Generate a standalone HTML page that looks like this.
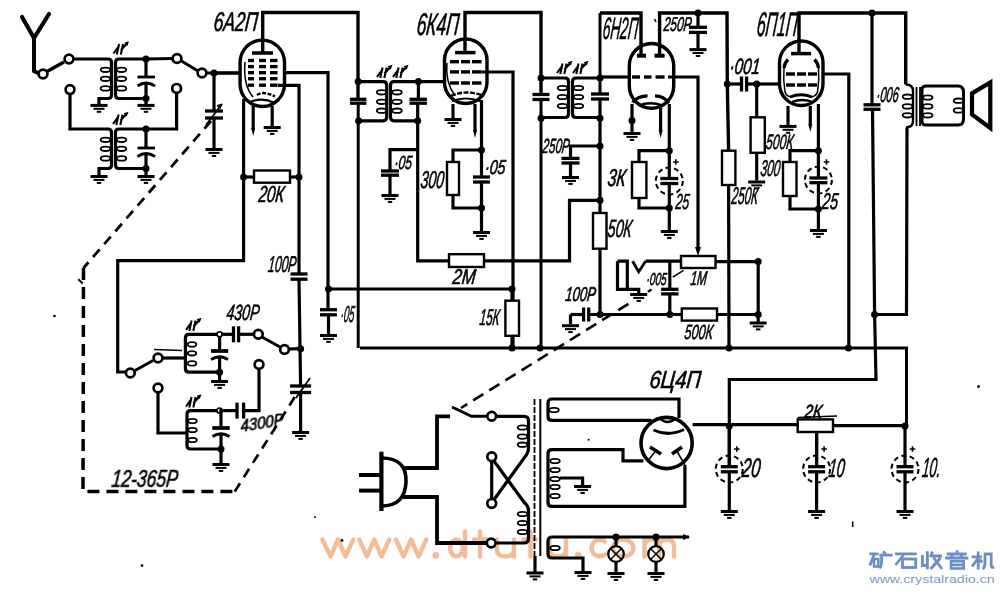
<!DOCTYPE html>
<html><head><meta charset="utf-8"><style>
html,body{margin:0;padding:0;background:#fff;width:1000px;height:593px;overflow:hidden}
svg{display:block}
text{font-family:"Liberation Sans",sans-serif;fill:#000}
</style></head><body>
<svg width="1000" height="593" viewBox="0 0 1000 593" stroke-linecap="butt" stroke-linejoin="miter">
<rect width="1000" height="593" fill="#fff"/>
<g fill="none" stroke="#f2bc98" stroke-width="4.4" stroke-linecap="round" stroke-linejoin="round">
<path d="M322.5,539.5 L330.5,556.5 L338,539.5 L345.5,556.5 L353.3,539.5"/>
<path d="M359.3,539.5 L367,556.5 L374.2,539.5 L381.6,556.5 L389.3,539.5"/>
<path d="M395.9,539.5 L403.6,556.5 L411.1,539.5 L418.6,556.5 L426.3,539.5"/>
<ellipse cx="456.5" cy="548" rx="6.3" ry="8.3"/><path d="M465,531.5 V556.5"/>
<path d="M480,531.5 V556.5 M474,539.5 H486.5"/>
<path d="M496.8,539.5 V549 Q496.8,556.5 505.3,556.5 Q514,556.5 514,549 V539.5 M514,549 V556.5"/>
<path d="M530.5,531.5 V556.5 M523.5,539.5 H536"/>
<path d="M549.3,539.5 V549 Q549.3,556.5 557.6,556.5 Q566,556.5 566,549 V539.5 M566,549 V556.5"/>
<path d="M605,541.5 A8.3,8.3 0 1 0 605,554.5"/>
<ellipse cx="623.2" cy="548" rx="10.3" ry="8.5"/>
<path d="M644.5,556.5 V539.5 M644.5,546 Q644.5,539.5 652,539.5 Q659.3,539.5 659.3,546 V556.5 M659.3,546 Q659.3,539.5 666.8,539.5 Q674,539.5 674,546 V556.5"/>
</g>
<g fill="#f2bc98"><circle cx="435.8" cy="555.3" r="3.4"/><circle cx="578.2" cy="555.3" r="3.4"/></g>
<polyline points="22,17 34,38 49,14" fill="none" stroke="#000" stroke-width="4.2" stroke-linecap="round"/>
<polyline points="34,38 34,71 40,74" fill="none" stroke="#000" stroke-width="4" />
<circle cx="43" cy="74" r="4.4" fill="#fff" stroke="#000" stroke-width="2.7"/>
<polyline points="47,71.5 64,62" fill="none" stroke="#000" stroke-width="3.5" />
<circle cx="69" cy="59" r="4.4" fill="#fff" stroke="#000" stroke-width="2.7"/>
<path d="M74,59 L108,59 Q111.5,59 111.5,62.5 L111.5,95 Q111.5,98.5 108,98.5 L99,98.5 L99,104" fill="none" stroke="#000" stroke-width="3.2" />
<ellipse cx="105.5" cy="69.8" rx="4.8" ry="2.2" fill="none" stroke="#000" stroke-width="1.8"/>
<ellipse cx="105.5" cy="78.8" rx="4.8" ry="2.2" fill="none" stroke="#000" stroke-width="1.8"/>
<ellipse cx="105.5" cy="88.4" rx="4.8" ry="2.2" fill="none" stroke="#000" stroke-width="1.8"/>
<rect x="90.5" y="103.9" width="17" height="3" />
<rect x="93.5" y="107.80000000000001" width="11" height="2" />
<rect x="96.8" y="110.80000000000001" width="4.4" height="2" />
<path d="M146,59 L119,59 Q115.5,59 115.5,62.5 L115.5,95 Q115.5,98.5 119,98.5 L146,98.5" fill="none" stroke="#000" stroke-width="3.2" />
<ellipse cx="121.5" cy="69.8" rx="4.8" ry="2.2" fill="none" stroke="#000" stroke-width="1.8"/>
<ellipse cx="121.5" cy="78.8" rx="4.8" ry="2.2" fill="none" stroke="#000" stroke-width="1.8"/>
<ellipse cx="121.5" cy="88.4" rx="4.8" ry="2.2" fill="none" stroke="#000" stroke-width="1.8"/>
<circle cx="146" cy="59" r="3.5"/>
<circle cx="146" cy="98.5" r="3.5"/>
<polyline points="146,59 146,77" fill="none" stroke="#000" stroke-width="3.2" />
<polyline points="137.5,77 155,77" fill="none" stroke="#000" stroke-width="2.8" />
<path d="M137.5,86 Q146,80 155,86" fill="none" stroke="#000" stroke-width="2.8" />
<polyline points="146,82 146,104" fill="none" stroke="#000" stroke-width="3.2" />
<rect x="137.5" y="103.9" width="17" height="3" />
<rect x="140.5" y="107.80000000000001" width="11" height="2" />
<rect x="143.8" y="110.80000000000001" width="4.4" height="2" />
<path d="M113.5,53.5 L118.5,46.5 M116.8,54.5 L119.1,44.0 M120.8,54.5 L123.1,44.0 M121.0,50.0 L127.0,43.5" fill="none" stroke="#000" stroke-width="2.1" />
<path d="M129.0,41.3 L124.1,42.7 L127.3,45.9 Z"/>
<polyline points="146,59 172.5,58.5" fill="none" stroke="#000" stroke-width="3.2" />
<circle cx="177" cy="58.5" r="4.4" fill="#fff" stroke="#000" stroke-width="2.7"/>
<polyline points="181.5,61 198,71" fill="none" stroke="#000" stroke-width="3" />
<circle cx="202" cy="73" r="4.4" fill="#fff" stroke="#000" stroke-width="2.7"/>
<polyline points="206.5,73 240,73" fill="none" stroke="#000" stroke-width="3.2" />
<circle cx="214" cy="73" r="3.5"/>
<polyline points="214,73 214,111" fill="none" stroke="#000" stroke-width="3.2" />
<polyline points="205,111 223,111" fill="none" stroke="#000" stroke-width="3.3" />
<polyline points="205,118 223,118" fill="none" stroke="#000" stroke-width="3.3" />
<polyline points="214,118 214,148" fill="none" stroke="#000" stroke-width="3.2" />
<rect x="205.5" y="148.0" width="17" height="3" />
<rect x="208.5" y="151.9" width="11" height="2" />
<rect x="211.8" y="154.9" width="4.4" height="2" />
<path d="M206,125 L222,104" fill="none" stroke="#000" stroke-width="1.8" />
<path d="M222,104 l-5,1.5 l3,3 z" fill="#000" stroke="#000" stroke-width="1" />
<circle cx="176.6" cy="88.4" r="4.4" fill="#fff" stroke="#000" stroke-width="2.7"/>
<polyline points="176.6,93 176.6,129 146,129" fill="none" stroke="#000" stroke-width="3.2" />
<circle cx="70" cy="89.6" r="4.4" fill="#fff" stroke="#000" stroke-width="2.7"/>
<path d="M70,94.2 L70,129 L108,129 Q111.5,129 111.5,132.5 L111.5,165 Q111.5,168.5 108,168.5 L99,168.5 L99,175" fill="none" stroke="#000" stroke-width="3.2" />
<ellipse cx="105.5" cy="139.8" rx="4.8" ry="2.2" fill="none" stroke="#000" stroke-width="1.8"/>
<ellipse cx="105.5" cy="148.8" rx="4.8" ry="2.2" fill="none" stroke="#000" stroke-width="1.8"/>
<ellipse cx="105.5" cy="158.4" rx="4.8" ry="2.2" fill="none" stroke="#000" stroke-width="1.8"/>
<rect x="90.5" y="175.0" width="17" height="3" />
<rect x="93.5" y="178.9" width="11" height="2" />
<rect x="96.8" y="181.9" width="4.4" height="2" />
<path d="M146,129 L119,129 Q115.5,129 115.5,132.5 L115.5,165 Q115.5,168.5 119,168.5 L146,168.5" fill="none" stroke="#000" stroke-width="3.2" />
<ellipse cx="121.5" cy="139.8" rx="4.8" ry="2.2" fill="none" stroke="#000" stroke-width="1.8"/>
<ellipse cx="121.5" cy="148.8" rx="4.8" ry="2.2" fill="none" stroke="#000" stroke-width="1.8"/>
<ellipse cx="121.5" cy="158.4" rx="4.8" ry="2.2" fill="none" stroke="#000" stroke-width="1.8"/>
<circle cx="146" cy="129" r="3.5"/>
<circle cx="146" cy="168.5" r="3.5"/>
<polyline points="146,129 146,148" fill="none" stroke="#000" stroke-width="3.2" />
<polyline points="137.5,148 155,148" fill="none" stroke="#000" stroke-width="2.8" />
<path d="M137.5,156.5 Q146,150.5 155,156.5" fill="none" stroke="#000" stroke-width="2.8" />
<polyline points="146,153 146,175" fill="none" stroke="#000" stroke-width="3.2" />
<rect x="137.5" y="175.0" width="17" height="3" />
<rect x="140.5" y="178.9" width="11" height="2" />
<rect x="143.8" y="181.9" width="4.4" height="2" />
<path d="M113,124 L118,117 M116.3,125 L118.6,114.5 M120.3,125 L122.6,114.5 M120.5,120.5 L126.5,114" fill="none" stroke="#000" stroke-width="2.1" />
<path d="M128.5,111.8 L123.6,113.2 L126.8,116.4 Z"/>
<polyline points="211,121 83.5,268" fill="none" stroke="#000" stroke-width="2.8" stroke-dasharray="10 7"/>
<polyline points="83.5,268 83,491.6 234.7,491.6" fill="none" stroke="#000" stroke-width="3.5" stroke-dasharray="12 7"/>
<polyline points="234.7,491.6 296.7,394" fill="none" stroke="#000" stroke-width="2.7" stroke-dasharray="10 7"/>
<polyline points="78.2,279.3 82.8,283.5" fill="none" stroke="#000" stroke-width="2" />
<path d="M240.10000000000002,62.3 A22.2,22.2 0 0 1 284.5,62.3 L284.5,84.3 A22.2,22.2 0 0 1 240.10000000000002,84.3 Z" fill="none" stroke="#000" stroke-width="3.4" />
<polyline points="262.7,53 262.7,12.5 358,12.5 358,99" fill="none" stroke="#000" stroke-width="3.4" />
<polyline points="252,53 273,53" fill="none" stroke="#000" stroke-width="3.5" />
<polyline points="248,60.5 254,60.5" fill="none" stroke="#000" stroke-width="3.4" />
<polyline points="259,60.5 266,60.5" fill="none" stroke="#000" stroke-width="3.4" />
<polyline points="270,60.5 277.5,60.5" fill="none" stroke="#000" stroke-width="3.4" />
<polyline points="248,66.6 254,66.6" fill="none" stroke="#000" stroke-width="3.4" />
<polyline points="259,66.6 266,66.6" fill="none" stroke="#000" stroke-width="3.4" />
<polyline points="270,66.6 277.5,66.6" fill="none" stroke="#000" stroke-width="3.4" />
<polyline points="248,72.7 254,72.7" fill="none" stroke="#000" stroke-width="3.4" />
<polyline points="259,72.7 266,72.7" fill="none" stroke="#000" stroke-width="3.4" />
<polyline points="270,72.7 277.5,72.7" fill="none" stroke="#000" stroke-width="3.4" />
<polyline points="248,78.7 254,78.7" fill="none" stroke="#000" stroke-width="3.4" />
<polyline points="259,78.7 266,78.7" fill="none" stroke="#000" stroke-width="3.4" />
<polyline points="270,78.7 277.5,78.7" fill="none" stroke="#000" stroke-width="3.4" />
<polyline points="248,85.2 254,85.2" fill="none" stroke="#000" stroke-width="3.4" />
<polyline points="259,85.2 266,85.2" fill="none" stroke="#000" stroke-width="3.4" />
<polyline points="270,85.2 277.5,85.2" fill="none" stroke="#000" stroke-width="3.4" />
<path d="M257,95 Q263,90.5 275,96.5" fill="none" stroke="#000" stroke-width="2.4" stroke-dasharray="4 1.5"/>
<path d="M250,102 Q262.5,97 274.5,103" fill="none" stroke="#000" stroke-width="2.2" />
<path d="M245,62 Q243,85 253,97" fill="none" stroke="#000" stroke-width="1.5" />
<polyline points="214,73 240,73" fill="none" stroke="#000" stroke-width="3.2" />
<polyline points="284,72.7 328,72.7 328,309.7" fill="none" stroke="#000" stroke-width="3.2" />
<polyline points="278,85.3 299,85.3 299,274" fill="none" stroke="#000" stroke-width="3.2" />
<polyline points="243.6,99 243.6,260.6 117.7,260.6 117.7,372 125,372" fill="none" stroke="#000" stroke-width="3.2" />
<polyline points="253.2,106 253.2,130" fill="none" stroke="#000" stroke-width="3.2" />
<path d="M251.2,128 L255.2,128 L253.2,136 Z"/>
<polyline points="272.2,106 272.2,126.5" fill="none" stroke="#000" stroke-width="3.2" />
<rect x="263.7" y="126.0" width="17" height="3" />
<rect x="266.7" y="129.9" width="11" height="2" />
<rect x="270.0" y="132.9" width="4.4" height="2" />
<circle cx="243.6" cy="177" r="3.5"/>
<rect x="254" y="170.5" width="36" height="12.199999999999989" fill="#fff" stroke="#000" stroke-width="2.4"/>
<polyline points="243.6,177 254,177" fill="none" stroke="#000" stroke-width="3.2" />
<polyline points="290,177 299,177" fill="none" stroke="#000" stroke-width="3.2" />
<circle cx="299" cy="177" r="3.5"/>
<polyline points="290.5,274 307.5,274" fill="none" stroke="#000" stroke-width="3.3" />
<polyline points="290.5,279.2 307.5,279.2" fill="none" stroke="#000" stroke-width="3.3" />
<polyline points="299,279.2 300.6,386" fill="none" stroke="#000" stroke-width="3.2" />
<circle cx="300.6" cy="348.7" r="3.5"/>
<polyline points="290.1,386 311.1,386" fill="none" stroke="#000" stroke-width="3.3" />
<polyline points="290.1,392.5 311.1,392.5" fill="none" stroke="#000" stroke-width="3.3" />
<polyline points="300.6,392.5 300.6,431" fill="none" stroke="#000" stroke-width="3.2" />
<rect x="292.1" y="431.0" width="17" height="3" />
<rect x="295.1" y="434.9" width="11" height="2" />
<rect x="298.40000000000003" y="437.9" width="4.4" height="2" />
<path d="M296,398 L310,378" fill="none" stroke="#000" stroke-width="1.8" />
<polyline points="320.0,309.7 337.0,309.7" fill="none" stroke="#000" stroke-width="3.3" />
<polyline points="320.0,314.8 337.0,314.8" fill="none" stroke="#000" stroke-width="3.3" />
<polyline points="328.5,314.8 328.5,334" fill="none" stroke="#000" stroke-width="3.2" />
<rect x="320.0" y="334.0" width="17" height="3" />
<rect x="323.0" y="337.9" width="11" height="2" />
<rect x="326.3" y="340.9" width="4.4" height="2" />
<circle cx="328.5" cy="289" r="3.5"/>
<polyline points="328.5,289 512,289" fill="none" stroke="#000" stroke-width="3.2" />
<polyline points="350.0,99.3 366.4,99.3" fill="none" stroke="#000" stroke-width="3.3" />
<polyline points="350.0,103.2 366.4,103.2" fill="none" stroke="#000" stroke-width="3.3" />
<polyline points="358.2,103.2 358.2,348" fill="none" stroke="#000" stroke-width="3" />
<circle cx="358.2" cy="81.6" r="3.5"/>
<circle cx="358.6" cy="120.8" r="3.5"/>
<path d="M358.2,81.6 L383,81.6 Q386.7,81.6 386.7,85.3 L386.7,117 Q386.7,120.8 383,120.8 L358.6,120.8" fill="none" stroke="#000" stroke-width="3.2" />
<ellipse cx="381.6" cy="92.3" rx="4.8" ry="2.2" fill="none" stroke="#000" stroke-width="1.8"/>
<ellipse cx="381.6" cy="101.8" rx="4.8" ry="2.2" fill="none" stroke="#000" stroke-width="1.8"/>
<ellipse cx="381.6" cy="110.7" rx="4.8" ry="2.2" fill="none" stroke="#000" stroke-width="1.8"/>
<path d="M418.4,81.6 L394,81.6 Q390.5,81.6 390.5,85.3 L390.5,117 Q390.5,120.8 394,120.8 L417.7,120.8" fill="none" stroke="#000" stroke-width="3.2" />
<ellipse cx="397" cy="92.3" rx="4.8" ry="2.2" fill="none" stroke="#000" stroke-width="1.8"/>
<ellipse cx="397" cy="101.8" rx="4.8" ry="2.2" fill="none" stroke="#000" stroke-width="1.8"/>
<ellipse cx="397" cy="110.7" rx="4.8" ry="2.2" fill="none" stroke="#000" stroke-width="1.8"/>
<path d="M377,77 L382,70 M380.3,78 L382.6,67.5 M384.3,78 L386.6,67.5 M384.5,73.5 L390.5,67" fill="none" stroke="#000" stroke-width="2.1" />
<path d="M392.5,64.8 L387.6,66.2 L390.8,69.4 Z"/>
<path d="M393,77 L398,70 M396.3,78 L398.6,67.5 M400.3,78 L402.6,67.5 M400.5,73.5 L406.5,67" fill="none" stroke="#000" stroke-width="2.1" />
<path d="M408.5,64.8 L403.6,66.2 L406.8,69.4 Z"/>
<circle cx="418.4" cy="81.6" r="3.5"/>
<circle cx="417.7" cy="120.8" r="3.5"/>
<polyline points="418.4,81.6 443,81.6" fill="none" stroke="#000" stroke-width="3.2" />
<polyline points="418.4,81.6 418.4,99.3" fill="none" stroke="#000" stroke-width="3.2" />
<polyline points="409.5,99.3 426.9,99.3" fill="none" stroke="#000" stroke-width="3.3" />
<polyline points="409.5,103.2 426.9,103.2" fill="none" stroke="#000" stroke-width="3.3" />
<polyline points="417.7,103.2 417.7,260.8 449,260.8" fill="none" stroke="#000" stroke-width="3.2" />
<rect x="449" y="254.2" width="35" height="12.800000000000011" fill="#fff" stroke="#000" stroke-width="2.4"/>
<polyline points="484,260.8 569.5,260.8 569.5,200.3 600,200.3" fill="none" stroke="#000" stroke-width="3.2" />
<polyline points="417.7,149.7 390,149.7 390,171" fill="none" stroke="#000" stroke-width="3.2" />
<polyline points="381,171 399,171" fill="none" stroke="#000" stroke-width="3.3" />
<polyline points="381,175.2 399,175.2" fill="none" stroke="#000" stroke-width="3.3" />
<polyline points="390,175.2 390,194" fill="none" stroke="#000" stroke-width="3.2" />
<rect x="381.5" y="194.0" width="17" height="3" />
<rect x="384.5" y="197.9" width="11" height="2" />
<rect x="387.8" y="200.9" width="4.4" height="2" />
<path d="M444.5,60.25 A21.25,21.25 0 0 1 487.0,60.25 L487.0,82.25 A21.25,21.25 0 0 1 444.5,82.25 Z" fill="none" stroke="#000" stroke-width="3.4" />
<polyline points="465,52.6 465,12.5 541,12.5 541,94.5" fill="none" stroke="#000" stroke-width="3.4" />
<polyline points="455,52.6 475.5,52.6" fill="none" stroke="#000" stroke-width="3.5" />
<polyline points="450,61.7 459,61.7" fill="none" stroke="#000" stroke-width="3.4" />
<polyline points="461,61.7 470,61.7" fill="none" stroke="#000" stroke-width="3.4" />
<polyline points="472,61.7 481.5,61.7" fill="none" stroke="#000" stroke-width="3.4" />
<polyline points="450,71.9 459,71.9" fill="none" stroke="#000" stroke-width="3.4" />
<polyline points="461,71.9 470,71.9" fill="none" stroke="#000" stroke-width="3.4" />
<polyline points="472,71.9 481.5,71.9" fill="none" stroke="#000" stroke-width="3.4" />
<polyline points="450,83 459,83" fill="none" stroke="#000" stroke-width="3.4" />
<polyline points="461,83 470,83" fill="none" stroke="#000" stroke-width="3.4" />
<polyline points="472,83 481.5,83" fill="none" stroke="#000" stroke-width="3.4" />
<polyline points="481.5,72 513,72 513,348" fill="none" stroke="#000" stroke-width="3.2" />
<path d="M451,96 Q466,89 484,96" fill="none" stroke="#000" stroke-width="2.4" stroke-dasharray="5 1.5"/>
<path d="M452,101 Q465.7,96 480,101" fill="none" stroke="#000" stroke-width="2" />
<path d="M447,63 Q445,82 455,96" fill="none" stroke="#000" stroke-width="1.5" />
<polyline points="453,104 453,118" fill="none" stroke="#000" stroke-width="3.2" />
<rect x="444.5" y="118.0" width="17" height="3" />
<rect x="447.5" y="121.9" width="11" height="2" />
<rect x="450.8" y="124.9" width="4.4" height="2" />
<polyline points="475,104 475,131" fill="none" stroke="#000" stroke-width="3.2" />
<path d="M473.0,130 L477.0,130 L475,138 Z"/>
<polyline points="481.5,100 481.5,177" fill="none" stroke="#000" stroke-width="3.2" />
<circle cx="481.5" cy="150" r="3.5"/>
<polyline points="481.5,150 453,150 453,162" fill="none" stroke="#000" stroke-width="3.2" />
<rect x="447" y="162" width="12" height="33" fill="#fff" stroke="#000" stroke-width="2.4"/>
<polyline points="453,195 453,208 481.5,208" fill="none" stroke="#000" stroke-width="3.2" />
<polyline points="473.0,177 490.0,177" fill="none" stroke="#000" stroke-width="3.3" />
<polyline points="473.0,182 490.0,182" fill="none" stroke="#000" stroke-width="3.3" />
<polyline points="481.5,182 481.5,231" fill="none" stroke="#000" stroke-width="3.2" />
<circle cx="481.5" cy="208" r="3.5"/>
<rect x="473.0" y="231.0" width="17" height="3" />
<rect x="476.0" y="234.9" width="11" height="2" />
<rect x="479.3" y="237.9" width="4.4" height="2" />
<circle cx="512" cy="289" r="3.5"/>
<polyline points="512,289 512,300.7" fill="none" stroke="#000" stroke-width="3.2" />
<rect x="505.4" y="300.7" width="13.600000000000023" height="35.10000000000002" fill="#fff" stroke="#000" stroke-width="2.4"/>
<polyline points="512,335.8 512,348" fill="none" stroke="#000" stroke-width="3.2" />
<circle cx="512" cy="348" r="3.5"/>
<polyline points="360,348 906.5,348 906.5,426.3" fill="none" stroke="#000" stroke-width="3" />
<circle cx="540" cy="348" r="3.5"/>
<circle cx="729" cy="348" r="3.5"/>
<circle cx="848.5" cy="348" r="3.5"/>
<polyline points="532.5,94.5 549.5,94.5" fill="none" stroke="#000" stroke-width="3.3" />
<polyline points="532.5,99.5 549.5,99.5" fill="none" stroke="#000" stroke-width="3.3" />
<polyline points="541,99.5 541,348" fill="none" stroke="#000" stroke-width="3" />
<circle cx="541" cy="78" r="3.5"/>
<circle cx="541" cy="118.3" r="3.5"/>
<path d="M541,78 L565,78 Q568.5,78 568.5,81.5 L568.5,114 Q568.5,117.5 565,117.5 L541,117.5" fill="none" stroke="#000" stroke-width="3.2" />
<ellipse cx="562.5" cy="88" rx="4.8" ry="2.2" fill="none" stroke="#000" stroke-width="1.8"/>
<ellipse cx="562.5" cy="97" rx="4.8" ry="2.2" fill="none" stroke="#000" stroke-width="1.8"/>
<ellipse cx="562.5" cy="106" rx="4.8" ry="2.2" fill="none" stroke="#000" stroke-width="1.8"/>
<path d="M600,78 L576,78 Q572.5,78 572.5,81.5 L572.5,114 Q572.5,117.5 576,117.5 L600,117.5" fill="none" stroke="#000" stroke-width="3.2" />
<ellipse cx="578.5" cy="88" rx="4.8" ry="2.2" fill="none" stroke="#000" stroke-width="1.8"/>
<ellipse cx="578.5" cy="97" rx="4.8" ry="2.2" fill="none" stroke="#000" stroke-width="1.8"/>
<ellipse cx="578.5" cy="106" rx="4.8" ry="2.2" fill="none" stroke="#000" stroke-width="1.8"/>
<path d="M557,73 L562,66 M560.3,74 L562.6,63.5 M564.3,74 L566.6,63.5 M564.5,69.5 L570.5,63" fill="none" stroke="#000" stroke-width="2.1" />
<path d="M572.5,60.8 L567.6,62.2 L570.8,65.4 Z"/>
<path d="M573,73 L578,66 M576.3,74 L578.6,63.5 M580.3,74 L582.6,63.5 M580.5,69.5 L586.5,63" fill="none" stroke="#000" stroke-width="2.1" />
<path d="M588.5,60.8 L583.6,62.2 L586.8,65.4 Z"/>
<circle cx="600" cy="78" r="3.5"/>
<circle cx="600" cy="118.3" r="3.5"/>
<polyline points="591,94 609,94" fill="none" stroke="#000" stroke-width="3.3" />
<polyline points="591,99 609,99" fill="none" stroke="#000" stroke-width="3.3" />
<polyline points="600,13 641,13 641,55.7" fill="none" stroke="#000" stroke-width="3.4" />
<polyline points="600,13 600,94" fill="none" stroke="#000" stroke-width="3" />
<polyline points="600,99 600,213" fill="none" stroke="#000" stroke-width="3.2" />
<circle cx="600" cy="146" r="3.5"/>
<polyline points="600,146 570.5,146 570.5,158.4" fill="none" stroke="#000" stroke-width="3.2" />
<polyline points="561.5,158.4 579.5,158.4" fill="none" stroke="#000" stroke-width="3.3" />
<polyline points="561.5,163 579.5,163" fill="none" stroke="#000" stroke-width="3.3" />
<polyline points="570.5,163 570.5,176" fill="none" stroke="#000" stroke-width="3.2" />
<rect x="562.0" y="176.0" width="17" height="3" />
<rect x="565.0" y="179.9" width="11" height="2" />
<rect x="568.3" y="182.9" width="4.4" height="2" />
<circle cx="600" cy="200.3" r="3.5"/>
<rect x="593" y="213" width="13.5" height="35.69999999999999" fill="#fff" stroke="#000" stroke-width="2.4"/>
<polyline points="600,248.7 600,314.5" fill="none" stroke="#000" stroke-width="3.2" />
<circle cx="600" cy="314.5" r="3.5"/>
<path d="M629.3,65.7 A22.2,22.2 0 0 1 673.7,65.7 L673.7,86.1 A22.2,22.2 0 0 1 629.3,86.1 Z" fill="none" stroke="#000" stroke-width="3.4" />
<polyline points="637,55.7 646,55.7" fill="none" stroke="#000" stroke-width="4" />
<polyline points="654.5,55.7 664.6,55.7" fill="none" stroke="#000" stroke-width="4" />
<polyline points="659.6,55.7 659.6,13 727,13 727.3,84 728.6,150.7" fill="none" stroke="#000" stroke-width="3.4" />
<circle cx="698" cy="13" r="3.5"/>
<polyline points="698,13 698,27.3" fill="none" stroke="#000" stroke-width="3.2" />
<polyline points="689,27.3 707,27.3" fill="none" stroke="#000" stroke-width="3.3" />
<polyline points="689,32.4 707,32.4" fill="none" stroke="#000" stroke-width="3.3" />
<polyline points="698,32.4 698,48" fill="none" stroke="#000" stroke-width="3.2" />
<rect x="689.5" y="48.1" width="17" height="3" />
<rect x="692.5" y="52.0" width="11" height="2" />
<rect x="695.8" y="55.0" width="4.4" height="2" />
<polyline points="654.5,19 656,22" fill="none" stroke="#000" stroke-width="1.5" />
<polyline points="600,77 629,77" fill="none" stroke="#000" stroke-width="3.2" />
<polyline points="632,77 640,77" fill="none" stroke="#000" stroke-width="3.4" />
<polyline points="644,77 651.5,77" fill="none" stroke="#000" stroke-width="3.4" />
<polyline points="655.5,77 664.6,77" fill="none" stroke="#000" stroke-width="3.4" />
<polyline points="668,77 698,77 698,249" fill="none" stroke="#000" stroke-width="3.2" />
<path d="M695.0,247 L701.0,247 L698,256 Z"/>
<path d="M632.6,102.4 Q638,96 647.5,95.9" fill="none" stroke="#000" stroke-width="3.2" />
<path d="M655,95.9 Q664,96 668.8,103.3" fill="none" stroke="#000" stroke-width="3.2" />
<path d="M639,105.5 Q650.5,101 662.3,105.5" fill="none" stroke="#000" stroke-width="2.6" />
<polyline points="632,104 632,132" fill="none" stroke="#000" stroke-width="3.2" />
<circle cx="632" cy="120.4" r="3.5"/>
<rect x="623.5" y="132.0" width="17" height="3" />
<rect x="626.5" y="135.9" width="11" height="2" />
<rect x="629.8" y="138.9" width="4.4" height="2" />
<polyline points="660.6,108 660.6,131" fill="none" stroke="#000" stroke-width="3.2" />
<path d="M658.6,130 L662.6,130 L660.6,138 Z"/>
<polyline points="669.3,104 669.3,178.5" fill="none" stroke="#000" stroke-width="3.2" />
<circle cx="669.3" cy="150.7" r="3.5"/>
<polyline points="669.3,150.7 639,150.7 639,162" fill="none" stroke="#000" stroke-width="3.2" />
<rect x="632" y="162" width="14.399999999999977" height="36" fill="#fff" stroke="#000" stroke-width="2.4"/>
<polyline points="639,198 639,208 669.3,208" fill="none" stroke="#000" stroke-width="3.2" />
<polyline points="660.3,178.5 678.3,178.5" fill="none" stroke="#000" stroke-width="3.3" />
<polyline points="660.3,183.5 678.3,183.5" fill="none" stroke="#000" stroke-width="3.3" />
<circle cx="669.3" cy="181" r="13.5" fill="none" stroke="#000" stroke-width="2" stroke-dasharray="5 3.5"/>
<polyline points="669.3,183.5 669.3,230" fill="none" stroke="#000" stroke-width="3.2" />
<circle cx="669.3" cy="208" r="3.5"/>
<rect x="660.8" y="230.0" width="17" height="3" />
<rect x="663.8" y="233.9" width="11" height="2" />
<rect x="667.0999999999999" y="236.9" width="4.4" height="2" />
<path d="M673.0,162 H678.5999999999999 M675.8,159.2 V164.8" fill="none" stroke="#000" stroke-width="1.6" />
<rect x="681" y="256" width="34.5" height="12" fill="#fff" stroke="#000" stroke-width="2.4"/>
<polyline points="645.5,261.2 681,261.2" fill="none" stroke="#000" stroke-width="3.2" />
<polyline points="715.5,261.6 758.2,261.6 758.2,322" fill="none" stroke="#000" stroke-width="3.2" />
<circle cx="758.2" cy="261.6" r="3.5"/>
<circle cx="758.2" cy="314.5" r="3.5"/>
<rect x="749.7" y="321.5" width="17" height="3" />
<rect x="752.7" y="325.4" width="11" height="2" />
<rect x="756.0" y="328.4" width="4.4" height="2" />
<polyline points="672.8,277.2 683.5,270.3" fill="none" stroke="#000" stroke-width="1.5" />
<polyline points="617.5,261.2 627.3,261.2 627.3,289.3" fill="none" stroke="#000" stroke-width="3.2" />
<polyline points="617.5,261.2 617.5,289.3 638.7,289.3 638.7,293" fill="none" stroke="#000" stroke-width="3.2" />
<rect x="630.2" y="293.0" width="17" height="3" />
<rect x="633.2" y="296.9" width="11" height="2" />
<rect x="636.5" y="299.9" width="4.4" height="2" />
<polyline points="632.6,261.2 638.7,271.9 645.5,261.2" fill="none" stroke="#000" stroke-width="2.8" />
<polyline points="669.8,261.2 669.8,289.3" fill="none" stroke="#000" stroke-width="3.2" />
<polyline points="661.0999999999999,289.3 678.5,289.3" fill="none" stroke="#000" stroke-width="3.3" />
<polyline points="661.0999999999999,293.9 678.5,293.9" fill="none" stroke="#000" stroke-width="3.3" />
<polyline points="669.8,293.9 669.8,314.5" fill="none" stroke="#000" stroke-width="3.2" />
<circle cx="669.8" cy="314.5" r="3.5"/>
<polyline points="570.5,314.5 583.6,314.5" fill="none" stroke="#000" stroke-width="3.2" />
<polyline points="583.6,307.5 583.6,321.5" fill="none" stroke="#000" stroke-width="3.3" />
<polyline points="588.7,307.5 588.7,321.5" fill="none" stroke="#000" stroke-width="3.3" />
<polyline points="588.7,314.5 681.8,314.5" fill="none" stroke="#000" stroke-width="3.2" />
<polyline points="570.5,314.5 570.5,324" fill="none" stroke="#000" stroke-width="3.2" />
<rect x="562.0" y="324.2" width="17" height="3" />
<rect x="565.0" y="328.09999999999997" width="11" height="2" />
<rect x="568.3" y="331.09999999999997" width="4.4" height="2" />
<rect x="681.8" y="308.5" width="35.200000000000045" height="12.100000000000023" fill="#fff" stroke="#000" stroke-width="2.4"/>
<polyline points="717,314.5 759.5,314.5" fill="none" stroke="#000" stroke-width="3.2" />
<polyline points="728.6,185 729,348" fill="none" stroke="#000" stroke-width="3.2" />
<rect x="722" y="150.7" width="13.399999999999977" height="34.30000000000001" fill="#fff" stroke="#000" stroke-width="2.4"/>
<polyline points="651.5,289.5 648,291.7" fill="none" stroke="#000" stroke-width="2.4" />
<polyline points="628.5,303.8 461,408" fill="none" stroke="#000" stroke-width="2.6" stroke-dasharray="12 7"/>
<path d="M779.5,62.75 A21.75,21.75 0 0 1 823.0,62.75 L823.0,83.75 A21.75,21.75 0 0 1 779.5,83.75 Z" fill="none" stroke="#000" stroke-width="3.4" />
<polyline points="799,53.6 799,13 905.7,13 905.7,84.5" fill="none" stroke="#000" stroke-width="3.4" />
<polyline points="791,53.6 811,53.6" fill="none" stroke="#000" stroke-width="3.5" />
<path d="M788,59.5 Q784.5,63 784,68" fill="none" stroke="#000" stroke-width="3.2" />
<path d="M814.5,59.5 Q818,63 818.5,68" fill="none" stroke="#000" stroke-width="3.2" />
<path d="M784,67 Q783,80 785,92 Q787,97.5 792,96.5 Q801,93 810,96.5 Q815.5,97.5 817.5,92 Q819.5,80 818.5,67" fill="none" stroke="#000" stroke-width="1.5" />
<polyline points="786,74 795,74" fill="none" stroke="#000" stroke-width="3.4" />
<polyline points="797,74 806,74" fill="none" stroke="#000" stroke-width="3.4" />
<polyline points="808,74 817,74" fill="none" stroke="#000" stroke-width="3.4" />
<polyline points="786,85 795,85" fill="none" stroke="#000" stroke-width="3.4" />
<polyline points="797,85 806,85" fill="none" stroke="#000" stroke-width="3.4" />
<polyline points="808,85 817,85" fill="none" stroke="#000" stroke-width="3.4" />
<polyline points="823,74 848.8,74 848.8,348" fill="none" stroke="#000" stroke-width="3.2" />
<path d="M790,97 Q801,92.5 812,97" fill="none" stroke="#000" stroke-width="2.8" />
<path d="M792,102 Q802,98 812.5,102" fill="none" stroke="#000" stroke-width="2.4" />
<circle cx="872" cy="13" r="3.5"/>
<polyline points="872,13 872,104.8" fill="none" stroke="#000" stroke-width="3.2" />
<polyline points="863.5,104.8 880.5,104.8" fill="none" stroke="#000" stroke-width="3.3" />
<polyline points="863.5,109.3 880.5,109.3" fill="none" stroke="#000" stroke-width="3.3" />
<polyline points="872.5,109.3 874.6,314.5 876,379.5 729.3,379.5 729.3,466.7" fill="none" stroke="#000" stroke-width="3.2" />
<circle cx="874.6" cy="314.5" r="3.5"/>
<polyline points="874.6,314.5 906.5,314.5 907,127.4" fill="none" stroke="#000" stroke-width="3.2" />
<circle cx="727.3" cy="84" r="3.5"/>
<polyline points="727.3,84 741.5,84" fill="none" stroke="#000" stroke-width="3.2" />
<polyline points="741.5,76.5 741.5,91.5" fill="none" stroke="#000" stroke-width="3.3" />
<polyline points="746.6,76.5 746.6,91.5" fill="none" stroke="#000" stroke-width="3.3" />
<polyline points="746.6,84 778,84" fill="none" stroke="#000" stroke-width="3.2" />
<circle cx="756.7" cy="84" r="3.5"/>
<polyline points="756.7,84 756.7,117.3" fill="none" stroke="#000" stroke-width="3.2" />
<rect x="750.6" y="117.3" width="14.199999999999932" height="35.500000000000014" fill="#fff" stroke="#000" stroke-width="2.4"/>
<polyline points="756.7,152.8 756.7,180.5" fill="none" stroke="#000" stroke-width="3.2" />
<rect x="748.2" y="180.5" width="17" height="3" />
<rect x="751.2" y="184.4" width="11" height="2" />
<rect x="754.5" y="187.4" width="4.4" height="2" />
<polyline points="788,106 788,125" fill="none" stroke="#000" stroke-width="3.2" />
<rect x="779.5" y="124.9" width="17" height="3" />
<rect x="782.5" y="128.8" width="11" height="2" />
<rect x="785.8" y="131.8" width="4.4" height="2" />
<polyline points="810.3,106 810.3,125" fill="none" stroke="#000" stroke-width="3.2" />
<path d="M808.3,124 L812.3,124 L810.3,132 Z"/>
<polyline points="818.4,104 818.4,178" fill="none" stroke="#000" stroke-width="3.2" />
<circle cx="818.4" cy="150.7" r="3.5"/>
<polyline points="818.4,150.7 790,150.7 790,162" fill="none" stroke="#000" stroke-width="3.2" />
<rect x="783" y="162" width="13.5" height="34" fill="#fff" stroke="#000" stroke-width="2.4"/>
<polyline points="790,196 790,209 818.4,209" fill="none" stroke="#000" stroke-width="3.2" />
<polyline points="809.4,178 827.4,178" fill="none" stroke="#000" stroke-width="3.3" />
<polyline points="809.4,182.7 827.4,182.7" fill="none" stroke="#000" stroke-width="3.3" />
<circle cx="818.4" cy="180" r="13.5" fill="none" stroke="#000" stroke-width="2" stroke-dasharray="5 3.5"/>
<polyline points="818.4,182.7 818.4,229" fill="none" stroke="#000" stroke-width="3.2" />
<circle cx="818.4" cy="209" r="3.5"/>
<rect x="809.9" y="229.0" width="17" height="3" />
<rect x="812.9" y="232.9" width="11" height="2" />
<rect x="816.1999999999999" y="235.9" width="4.4" height="2" />
<path d="M823.7,162 H829.3 M826.5,159.2 V164.8" fill="none" stroke="#000" stroke-width="1.6" />
<path d="M905.7,84.5 Q913,84.5 913,91 L913,121 Q913,127.4 906,127.4" fill="none" stroke="#000" stroke-width="2.4" />
<ellipse cx="907.5" cy="96.7" rx="4.8" ry="2.2" fill="none" stroke="#000" stroke-width="1.8"/>
<ellipse cx="907.5" cy="106.4" rx="4.8" ry="2.2" fill="none" stroke="#000" stroke-width="1.8"/>
<ellipse cx="907.5" cy="115.3" rx="4.8" ry="2.2" fill="none" stroke="#000" stroke-width="1.8"/>
<polyline points="916.5,87 916.5,126" fill="none" stroke="#000" stroke-width="1.8" />
<polyline points="920,87 920,126" fill="none" stroke="#000" stroke-width="1.8" />
<path d="M958,86 L926,86 Q922,86 922,90 L922,121 Q922,125 926,125 L958,125 Q963.5,125 963.5,119 L963.5,92 Q963.5,86 958,86" fill="none" stroke="#000" stroke-width="3" />
<ellipse cx="927.7" cy="97.5" rx="4.8" ry="2.2" fill="none" stroke="#000" stroke-width="1.8"/>
<ellipse cx="927.7" cy="106.4" rx="4.8" ry="2.2" fill="none" stroke="#000" stroke-width="1.8"/>
<ellipse cx="927.7" cy="115.3" rx="4.8" ry="2.2" fill="none" stroke="#000" stroke-width="1.8"/>
<ellipse cx="958.5" cy="100.7" rx="4.8" ry="2.2" fill="none" stroke="#000" stroke-width="1.8"/>
<ellipse cx="958.5" cy="110.4" rx="4.8" ry="2.2" fill="none" stroke="#000" stroke-width="1.8"/>
<path d="M972,93.4 L990.3,82.5 L990.3,128 L972,114.5 Z" fill="none" stroke="#000" stroke-width="4.2" />
<polyline points="381.4,451.7 381.4,511" fill="none" stroke="#000" stroke-width="4.2" />
<path d="M381.4,458 Q407,458 406,482 Q405,506 381.4,506" fill="none" stroke="#000" stroke-width="3.6" />
<polyline points="359,475 381,475" fill="none" stroke="#000" stroke-width="4" />
<polyline points="359,490.6 381,490.6" fill="none" stroke="#000" stroke-width="4" />
<polyline points="403,468 437,468 437,416.3 450,416.3" fill="none" stroke="#000" stroke-width="3.8" />
<polyline points="403,497 437,497 437,543 486,543" fill="none" stroke="#000" stroke-width="3.8" />
<polyline points="452,407 471.5,416.3 487,416.3" fill="none" stroke="#000" stroke-width="3" />
<circle cx="491.7" cy="416.3" r="4.4" fill="#fff" stroke="#000" stroke-width="2.7"/>
<path d="M496.5,416.3 L524,416.3 Q528.5,416.3 528.5,421 L528.5,448 Q528.5,453 524.5,457.5 L494.5,499" fill="none" stroke="#000" stroke-width="3.2" />
<ellipse cx="522.5" cy="427.5" rx="4.8" ry="2.2" fill="none" stroke="#000" stroke-width="1.8"/>
<ellipse cx="522.5" cy="436.6" rx="4.8" ry="2.2" fill="none" stroke="#000" stroke-width="1.8"/>
<ellipse cx="522.5" cy="444.7" rx="4.8" ry="2.2" fill="none" stroke="#000" stroke-width="1.8"/>
<circle cx="491.7" cy="456.8" r="4.4" fill="#fff" stroke="#000" stroke-width="2.7"/>
<circle cx="491.7" cy="503.4" r="4.4" fill="#fff" stroke="#000" stroke-width="2.7"/>
<polyline points="491.7,461.5 491.7,498.6" fill="none" stroke="#000" stroke-width="3.2" />
<polyline points="494,461 525,503.5" fill="none" stroke="#000" stroke-width="3.2" />
<path d="M524.5,502.5 Q528.5,506 528.5,511 L528.5,538 Q528.5,543 524,543 L496.5,543" fill="none" stroke="#000" stroke-width="3.2" />
<ellipse cx="522.5" cy="514" rx="4.8" ry="2.2" fill="none" stroke="#000" stroke-width="1.8"/>
<ellipse cx="522.5" cy="523" rx="4.8" ry="2.2" fill="none" stroke="#000" stroke-width="1.8"/>
<ellipse cx="522.5" cy="532" rx="4.8" ry="2.2" fill="none" stroke="#000" stroke-width="1.8"/>
<circle cx="491.2" cy="543" r="4.4" fill="#fff" stroke="#000" stroke-width="2.7"/>
<polyline points="534.5,399 534.5,556" fill="none" stroke="#000" stroke-width="1.8" stroke-dasharray="6 2"/>
<polyline points="540.3,399 540.3,556" fill="none" stroke="#000" stroke-width="2" />
<polyline points="535,556 535,572" fill="none" stroke="#000" stroke-width="3.2" />
<rect x="526.5" y="571.5" width="17" height="3" />
<rect x="529.5" y="575.4" width="11" height="2" />
<rect x="532.8" y="578.4" width="4.4" height="2" />
<path d="M679,418 L679,399 L552,399 Q548,399 548,403 L548,416.5 Q548,420.4 552,420.4 L651.5,420.4" fill="none" stroke="#000" stroke-width="3.2" />
<ellipse cx="554" cy="410" rx="4.8" ry="2.2" fill="none" stroke="#000" stroke-width="1.8"/>
<path d="M643.4,460.8 L623,460.8 L623,449.7 L552,449.7 Q548,449.7 548,453.5 L548,502.5 Q548,506.4 552,506.4 L684.9,506.4 L684.9,465" fill="none" stroke="#000" stroke-width="3.2" />
<ellipse cx="555" cy="461" rx="4.8" ry="2.2" fill="none" stroke="#000" stroke-width="1.8"/>
<ellipse cx="555" cy="470" rx="4.8" ry="2.2" fill="none" stroke="#000" stroke-width="1.8"/>
<ellipse cx="555" cy="479" rx="4.8" ry="2.2" fill="none" stroke="#000" stroke-width="1.8"/>
<ellipse cx="555" cy="487" rx="4.8" ry="2.2" fill="none" stroke="#000" stroke-width="1.8"/>
<ellipse cx="555" cy="496" rx="4.8" ry="2.2" fill="none" stroke="#000" stroke-width="1.8"/>
<polyline points="560,478 582.6,478 582.6,485" fill="none" stroke="#000" stroke-width="3.2" />
<rect x="574.1" y="485.0" width="17" height="3" />
<rect x="577.1" y="488.9" width="11" height="2" />
<rect x="580.4" y="491.9" width="4.4" height="2" />
<circle cx="666.6" cy="443" r="25.6" fill="none" stroke="#000" stroke-width="3.6"/>
<path d="M653.5,430 Q668,437 684,429.5" fill="none" stroke="#000" stroke-width="3" />
<path d="M659.6,418 Q667,426 676,418" fill="none" stroke="#000" stroke-width="2.4" />
<polyline points="650,447 661,454" fill="none" stroke="#000" stroke-width="3.5" />
<polyline points="672,454 682,447" fill="none" stroke="#000" stroke-width="3.5" />
<polyline points="655.5,451 648,460.8" fill="none" stroke="#000" stroke-width="1.5" />
<polyline points="676.8,451 684.9,465" fill="none" stroke="#000" stroke-width="1.5" />
<polyline points="692.6,424.6 797.7,424.6" fill="none" stroke="#000" stroke-width="3.2" />
<rect x="797.7" y="419.4" width="35.299999999999955" height="12.600000000000023" fill="#fff" stroke="#000" stroke-width="2.4"/>
<polyline points="833,425.6 905,425.6" fill="none" stroke="#000" stroke-width="3.2" />
<circle cx="729.3" cy="426" r="3.5"/>
<circle cx="905" cy="426" r="3.5"/>
<polyline points="797.7,417.4 837,416" fill="none" stroke="#000" stroke-width="1.5" />
<polyline points="816.6,432 816.6,466.7" fill="none" stroke="#000" stroke-width="3.2" />
<polyline points="729.3,426 729.3,466.7" fill="none" stroke="#000" stroke-width="3.2" />
<polyline points="720.8,466.7 737.8,466.7" fill="none" stroke="#000" stroke-width="3.3" />
<polyline points="720.8,471.8 737.8,471.8" fill="none" stroke="#000" stroke-width="3.3" />
<polyline points="729.3,471.8 729.3,510" fill="none" stroke="#000" stroke-width="3.2" />
<circle cx="729.3" cy="469" r="13.5" fill="none" stroke="#000" stroke-width="2" stroke-dasharray="5 3.5"/>
<rect x="720.8" y="510.0" width="17" height="3" />
<rect x="723.8" y="513.9" width="11" height="2" />
<rect x="727.0999999999999" y="516.9" width="4.4" height="2" />
<path d="M734.0,449 H739.5999999999999 M736.8,446.2 V451.8" fill="none" stroke="#000" stroke-width="1.6" />
<polyline points="816.6,432 816.6,466.7" fill="none" stroke="#000" stroke-width="3.2" />
<polyline points="808.1,466.7 825.1,466.7" fill="none" stroke="#000" stroke-width="3.3" />
<polyline points="808.1,471.8 825.1,471.8" fill="none" stroke="#000" stroke-width="3.3" />
<polyline points="816.6,471.8 816.6,510" fill="none" stroke="#000" stroke-width="3.2" />
<circle cx="816.6" cy="469" r="13.5" fill="none" stroke="#000" stroke-width="2" stroke-dasharray="5 3.5"/>
<rect x="808.1" y="510.0" width="17" height="3" />
<rect x="811.1" y="513.9" width="11" height="2" />
<rect x="814.4" y="516.9" width="4.4" height="2" />
<path d="M821.3000000000001,449 H826.9 M824.1,446.2 V451.8" fill="none" stroke="#000" stroke-width="1.6" />
<polyline points="905,426 905,466.7" fill="none" stroke="#000" stroke-width="3.2" />
<polyline points="896.5,466.7 913.5,466.7" fill="none" stroke="#000" stroke-width="3.3" />
<polyline points="896.5,471.8 913.5,471.8" fill="none" stroke="#000" stroke-width="3.3" />
<polyline points="905,471.8 905,510" fill="none" stroke="#000" stroke-width="3.2" />
<circle cx="905" cy="469" r="13.5" fill="none" stroke="#000" stroke-width="2" stroke-dasharray="5 3.5"/>
<rect x="896.5" y="510.0" width="17" height="3" />
<rect x="899.5" y="513.9" width="11" height="2" />
<rect x="902.8" y="516.9" width="4.4" height="2" />
<path d="M909.7,449 H915.3 M912.5,446.2 V451.8" fill="none" stroke="#000" stroke-width="1.6" />
<path d="M689,537 L552,537 Q548,537 548,541 L548,554 Q548,558 552,558 L583,558 L583,571" fill="none" stroke="#000" stroke-width="3.2" />
<path d="M683,534 L690,537 L683,540 Z"/>
<ellipse cx="555" cy="548" rx="4.8" ry="2.2" fill="none" stroke="#000" stroke-width="1.8"/>
<rect x="574.5" y="571.0" width="17" height="3" />
<rect x="577.5" y="574.9" width="11" height="2" />
<rect x="580.8" y="577.9" width="4.4" height="2" />
<circle cx="616" cy="537" r="3.5"/>
<polyline points="616,537 616,546" fill="none" stroke="#000" stroke-width="3.2" />
<circle cx="616" cy="554" r="7.8" fill="none" stroke="#000" stroke-width="2.2"/>
<polyline points="610.5,548.5 621.5,559.5" fill="none" stroke="#000" stroke-width="1.5" />
<polyline points="610.5,559.5 621.5,548.5" fill="none" stroke="#000" stroke-width="1.5" />
<polyline points="616,562 616,572" fill="none" stroke="#000" stroke-width="3.2" />
<rect x="607.5" y="572.0" width="17" height="3" />
<rect x="610.5" y="575.9" width="11" height="2" />
<rect x="613.8" y="578.9" width="4.4" height="2" />
<circle cx="656" cy="537" r="3.5"/>
<polyline points="656,537 656,546" fill="none" stroke="#000" stroke-width="3.2" />
<circle cx="656" cy="554" r="7.8" fill="none" stroke="#000" stroke-width="2.2"/>
<polyline points="650.5,548.5 661.5,559.5" fill="none" stroke="#000" stroke-width="1.5" />
<polyline points="650.5,559.5 661.5,548.5" fill="none" stroke="#000" stroke-width="1.5" />
<polyline points="656,562 656,572" fill="none" stroke="#000" stroke-width="3.2" />
<rect x="647.5" y="572.0" width="17" height="3" />
<rect x="650.5" y="575.9" width="11" height="2" />
<rect x="653.8" y="578.9" width="4.4" height="2" />
<circle cx="130.3" cy="373" r="4.4" fill="#fff" stroke="#000" stroke-width="2.7"/>
<polyline points="135,370.5 153,360.5" fill="none" stroke="#000" stroke-width="3" />
<circle cx="158" cy="358" r="4.4" fill="#fff" stroke="#000" stroke-width="2.7"/>
<polyline points="154,349.5 182,350.5" fill="none" stroke="#000" stroke-width="1.5" />
<polyline points="162.8,358 187,358" fill="none" stroke="#000" stroke-width="3.2" />
<path d="M219.6,334.3 L189,334.3 Q185.4,334.3 185.4,338 L185.4,368.5 Q185.4,372.2 189,372.2 L219.6,372.2" fill="none" stroke="#000" stroke-width="3.2" />
<ellipse cx="192" cy="344.4" rx="4.3" ry="2.2" fill="none" stroke="#000" stroke-width="1.8"/>
<ellipse cx="192" cy="353.3" rx="4.3" ry="2.2" fill="none" stroke="#000" stroke-width="1.8"/>
<ellipse cx="192" cy="363.4" rx="4.3" ry="2.2" fill="none" stroke="#000" stroke-width="1.8"/>
<path d="M186,330 L191,323 M189.3,331 L191.6,320.5 M193.3,331 L195.6,320.5 M193.5,326.5 L199.5,320" fill="none" stroke="#000" stroke-width="2.1" />
<path d="M201.5,317.8 L196.6,319.2 L199.8,322.4 Z"/>
<circle cx="219.6" cy="334.3" r="2.6" fill="#fff" stroke="#000" stroke-width="1.6"/>
<polyline points="221.5,334.3 233.5,334.3" fill="none" stroke="#000" stroke-width="3.2" />
<polyline points="233.5,326.3 233.5,342.3" fill="none" stroke="#000" stroke-width="3.3" />
<polyline points="238.6,326.3 238.6,342.3" fill="none" stroke="#000" stroke-width="3.3" />
<polyline points="238.6,334.3 253.5,334.3" fill="none" stroke="#000" stroke-width="3.2" />
<circle cx="258.3" cy="334.3" r="4.4" fill="#fff" stroke="#000" stroke-width="2.7"/>
<polyline points="262,337 280,347" fill="none" stroke="#000" stroke-width="3" />
<circle cx="284.5" cy="349.5" r="4.4" fill="#fff" stroke="#000" stroke-width="2.7"/>
<polyline points="289.3,349 300.6,348.7" fill="none" stroke="#000" stroke-width="3.2" />
<polyline points="219.6,336.5 219.6,351" fill="none" stroke="#000" stroke-width="3.2" />
<polyline points="211.1,351 228.1,351" fill="none" stroke="#000" stroke-width="3.3" />
<polyline points="211.1,351 228.1,351" fill="none" stroke="#000" stroke-width="3.3" />
<path d="M211,359.5 Q219.6,354 228,359.5" fill="none" stroke="#000" stroke-width="2.8" />
<polyline points="219.6,356 219.6,380" fill="none" stroke="#000" stroke-width="3.2" />
<circle cx="219.6" cy="372.2" r="3.5"/>
<rect x="211.1" y="380.0" width="17" height="3" />
<rect x="214.1" y="383.9" width="11" height="2" />
<rect x="217.4" y="386.9" width="4.4" height="2" />
<circle cx="158" cy="388" r="4.4" fill="#fff" stroke="#000" stroke-width="2.7"/>
<polyline points="158,392.8 158,433 187,433" fill="none" stroke="#000" stroke-width="3.2" />
<path d="M219.5,410.6 L190.5,410.6 Q187,410.6 187,414 L187,445.5 Q187,449 190.5,449 L221,449" fill="none" stroke="#000" stroke-width="3.2" />
<ellipse cx="192.5" cy="421" rx="4.3" ry="2.2" fill="none" stroke="#000" stroke-width="1.8"/>
<ellipse cx="192.5" cy="430" rx="4.3" ry="2.2" fill="none" stroke="#000" stroke-width="1.8"/>
<ellipse cx="192.5" cy="440" rx="4.3" ry="2.2" fill="none" stroke="#000" stroke-width="1.8"/>
<path d="M186,406.5 L191,399.5 M189.3,407.5 L191.6,397.0 M193.3,407.5 L195.6,397.0 M193.5,403.0 L199.5,396.5" fill="none" stroke="#000" stroke-width="2.1" />
<path d="M201.5,394.3 L196.6,395.7 L199.8,398.9 Z"/>
<circle cx="219.5" cy="410.6" r="2.6" fill="#fff" stroke="#000" stroke-width="1.6"/>
<polyline points="219.5,410.6 237,410.6" fill="none" stroke="#000" stroke-width="3.2" />
<polyline points="237,402.6 237,418.6" fill="none" stroke="#000" stroke-width="3.3" />
<polyline points="243.6,402.6 243.6,418.6" fill="none" stroke="#000" stroke-width="3.3" />
<polyline points="243.6,410.6 259,410.6 259,369.5" fill="none" stroke="#000" stroke-width="3.2" />
<circle cx="259" cy="364.5" r="4.4" fill="#fff" stroke="#000" stroke-width="2.7"/>
<polyline points="221,410.6 221,428" fill="none" stroke="#000" stroke-width="3.2" />
<polyline points="212.5,428 229.5,428" fill="none" stroke="#000" stroke-width="3.3" />
<polyline points="212.5,428 229.5,428" fill="none" stroke="#000" stroke-width="3.3" />
<path d="M212.5,436.5 Q221,431 229.5,436.5" fill="none" stroke="#000" stroke-width="2.8" />
<polyline points="221,433 221,463" fill="none" stroke="#000" stroke-width="3.2" />
<circle cx="221" cy="449" r="3.5"/>
<rect x="212.5" y="463.0" width="17" height="3" />
<rect x="215.5" y="466.9" width="11" height="2" />
<rect x="218.8" y="469.9" width="4.4" height="2" />
<circle cx="54.5" cy="316" r="1.3"/>
<circle cx="142" cy="565.6" r="1.3"/>
<circle cx="315" cy="517" r="1.0"/>
<circle cx="342" cy="540.4" r="1.4"/>
<circle cx="978.5" cy="386.6" r="1.5"/>
<circle cx="588.6" cy="439.8" r="1.0"/>
<polyline points="852.7,521.5 852.7,527" fill="none" stroke="#000" stroke-width="1.6" />
<g opacity="0.999"><text transform="translate(213.00,31.00) skewX(-6)" font-size="27.21" textLength="43.90" lengthAdjust="spacingAndGlyphs" font-style="italic" stroke="#000" stroke-width="0.65">6А2П</text>
<text transform="translate(257.90,202.00) skewX(-6)" font-size="23.10" textLength="25.77" lengthAdjust="spacingAndGlyphs" font-style="italic" stroke="#000" stroke-width="0.65">20К</text>
<text transform="translate(267.50,272.00) skewX(-6)" font-size="22.79" textLength="28.17" lengthAdjust="spacingAndGlyphs" font-style="italic" stroke="#000" stroke-width="0.65">100Р</text>
<text transform="translate(340.00,322.00) skewX(-6)" font-size="23.10" textLength="13.62" lengthAdjust="spacingAndGlyphs" font-style="italic" stroke="#000" stroke-width="0.65">·05</text>
<text transform="translate(452.00,284.00) skewX(-6)" font-size="21.43" textLength="23.10" lengthAdjust="spacingAndGlyphs" font-style="italic" stroke="#000" stroke-width="0.65">2М</text>
<text transform="translate(394.00,169.00) skewX(-6)" font-size="19.00" textLength="17.51" lengthAdjust="spacingAndGlyphs" font-style="italic" stroke="#000" stroke-width="0.65">·05</text>
<text transform="translate(415.90,34.80) skewX(-6)" font-size="31.34" textLength="42.18" lengthAdjust="spacingAndGlyphs" font-style="italic" stroke="#000" stroke-width="0.65">6К4П</text>
<text transform="translate(419.90,188.00) skewX(-6)" font-size="24.36" textLength="23.45" lengthAdjust="spacingAndGlyphs" font-style="italic" stroke="#000" stroke-width="0.65">300</text>
<text transform="translate(484.50,174.00) skewX(-6)" font-size="20.09" textLength="20.43" lengthAdjust="spacingAndGlyphs" font-style="italic" stroke="#000" stroke-width="0.65">·05</text>
<text transform="translate(479.00,325.00) skewX(-6)" font-size="22.94" textLength="20.07" lengthAdjust="spacingAndGlyphs" font-style="italic" stroke="#000" stroke-width="0.65">15К</text>
<text transform="translate(542.10,153.00) skewX(-6)" font-size="20.59" textLength="26.88" lengthAdjust="spacingAndGlyphs" font-style="italic" stroke="#000" stroke-width="0.65">250Р</text>
<text transform="translate(607.00,237.20) skewX(-6)" font-size="24.84" textLength="24.17" lengthAdjust="spacingAndGlyphs" font-style="italic" stroke="#000" stroke-width="0.65">50К</text>
<text transform="translate(602.00,38.50) skewX(-6)" font-size="30.93" textLength="35.18" lengthAdjust="spacingAndGlyphs" font-style="italic" stroke="#000" stroke-width="0.65">6Н2П</text>
<text transform="translate(663.20,30.80) skewX(-6)" font-size="20.08" textLength="27.88" lengthAdjust="spacingAndGlyphs" font-style="italic" stroke="#000" stroke-width="0.65">250Р</text>
<text transform="translate(674.90,208.80) skewX(-6)" font-size="21.66" textLength="13.70" lengthAdjust="spacingAndGlyphs" font-style="italic" stroke="#000" stroke-width="0.65">25</text>
<text transform="translate(607.00,186.00) skewX(-6)" font-size="24.36" textLength="18.24" lengthAdjust="spacingAndGlyphs" font-style="italic" stroke="#000" stroke-width="0.65">3К</text>
<text transform="translate(690.00,285.00) skewX(-6)" font-size="20.00" textLength="16.31" lengthAdjust="spacingAndGlyphs" font-style="italic" stroke="#000" stroke-width="0.65">1М</text>
<text transform="translate(646.00,285.10) skewX(-6)" font-size="17.37" textLength="20.02" lengthAdjust="spacingAndGlyphs" font-style="italic" stroke="#000" stroke-width="0.65">·005</text>
<text transform="translate(564.80,301.00) skewX(-6)" font-size="20.09" textLength="30.43" lengthAdjust="spacingAndGlyphs" font-style="italic" stroke="#000" stroke-width="0.65">100Р</text>
<text transform="translate(684.00,339.00) skewX(-6)" font-size="20.45" textLength="28.26" lengthAdjust="spacingAndGlyphs" font-style="italic" stroke="#000" stroke-width="0.65">500К</text>
<text transform="translate(731.00,204.00) skewX(-6)" font-size="24.36" textLength="26.31" lengthAdjust="spacingAndGlyphs" font-style="italic" stroke="#000" stroke-width="0.65">250К</text>
<text transform="translate(755.90,35.80) skewX(-6)" font-size="34.18" textLength="40.62" lengthAdjust="spacingAndGlyphs" font-style="italic" stroke="#000" stroke-width="0.65">6П1П</text>
<text transform="translate(876.00,102.00) skewX(-6)" font-size="21.43" textLength="22.14" lengthAdjust="spacingAndGlyphs" font-style="italic" stroke="#000" stroke-width="0.65">·006</text>
<text transform="translate(729.00,74.00) skewX(-6)" font-size="22.11" textLength="30.35" lengthAdjust="spacingAndGlyphs" font-style="italic" stroke="#000" stroke-width="0.65">·001</text>
<text transform="translate(765.60,148.90) skewX(-6)" font-size="20.85" textLength="27.24" lengthAdjust="spacingAndGlyphs" font-style="italic" stroke="#000" stroke-width="0.65">500К</text>
<text transform="translate(821.50,209.00) skewX(-6)" font-size="22.94" textLength="15.97" lengthAdjust="spacingAndGlyphs" font-style="italic" stroke="#000" stroke-width="0.65">25</text>
<text transform="translate(759.90,176.00) skewX(-6)" font-size="22.94" textLength="19.71" lengthAdjust="spacingAndGlyphs" font-style="italic" stroke="#000" stroke-width="0.65">300</text>
<text transform="translate(649.00,387.60) skewX(-6)" font-size="24.60" textLength="51.23" lengthAdjust="spacingAndGlyphs" font-style="italic" stroke="#000" stroke-width="0.65">6Ц4П</text>
<text transform="translate(804.00,417.80) skewX(-6)" font-size="19.07" textLength="17.39" lengthAdjust="spacingAndGlyphs" font-style="italic" stroke="#000" stroke-width="0.65">2К</text>
<text transform="translate(741.20,477.00) skewX(-6)" font-size="26.77" textLength="18.39" lengthAdjust="spacingAndGlyphs" font-style="italic" stroke="#000" stroke-width="0.65">20</text>
<text transform="translate(828.00,477.00) skewX(-6)" font-size="26.24" textLength="15.93" lengthAdjust="spacingAndGlyphs" font-style="italic" stroke="#000" stroke-width="0.65">10</text>
<text transform="translate(921.50,477.00) skewX(-6)" font-size="27.48" textLength="18.42" lengthAdjust="spacingAndGlyphs" font-style="italic" stroke="#000" stroke-width="0.65">10.</text>
<text transform="translate(226.00,320.20) skewX(-6)" font-size="22.01" textLength="32.74" lengthAdjust="spacingAndGlyphs" font-style="italic" stroke="#000" stroke-width="0.65">430Р</text>
<text transform="translate(241.00,432.00) rotate(-9) skewX(-6)" font-size="15.75" textLength="43.48" lengthAdjust="spacingAndGlyphs" font-style="italic" stroke="#000" stroke-width="0.65">4300Р</text>
<text transform="translate(111.00,487.00) skewX(-6)" font-size="23.93" textLength="66.30" lengthAdjust="spacingAndGlyphs" font-style="italic" stroke="#000" stroke-width="0.65">12-365Р</text></g>
<g fill="none" stroke="#6a8ec6" stroke-width="2.8" stroke-linecap="butt">
<path d="M869.3,553.8 H878.5 M874.3,554.5 L869.8,565.5"/>
<rect x="874" y="559" width="4.3" height="7.5" stroke-width="2.6"/>
<path d="M883,551.3 L885.8,554 M879.3,555.2 H892.5 M881.6,556 V562 Q881.3,566.5 879.3,568.3"/>
<path d="M895,553.9 H916.7 M903.5,555 L895.5,565"/>
<rect x="902.5" y="559" width="13.2" height="8.5" stroke-width="2.8"/>
<path d="M922.4,555 V565.5 H928 M927.4,551.2 V569.2"/>
<path d="M932.5,551.5 L930.3,557 M930.5,556 H942 M933.5,557.5 L942,569 M940.5,558 L930.5,569"/>
<path d="M957.2,550.3 V553.5 M946.8,554 H966.8 M951.3,555.3 L952.8,557.5 M962,555.3 L960.5,557.5 M945.2,558 H968.4"/>
<rect x="951" y="561.2" width="12.7" height="7.3" stroke-width="2.6"/>
<path d="M951,564.9 H963.7"/>
<path d="M978.2,551.6 V569.6 M971.6,556.8 H982 M977.8,558.5 L972,566.5 M979.5,559.5 L982.2,562.5"/>
<path d="M985,554 V562 Q985,567 982.8,569.2 M983.8,554 H991.2 V565.5 Q991.2,568 994.2,567.2"/>
</g>
<text x="869.4" y="582.7" font-size="11.6" textLength="125.3" lengthAdjust="spacingAndGlyphs" style="fill:#7f97c2">www.crystalradio.cn</text>
</svg>
</body></html>
